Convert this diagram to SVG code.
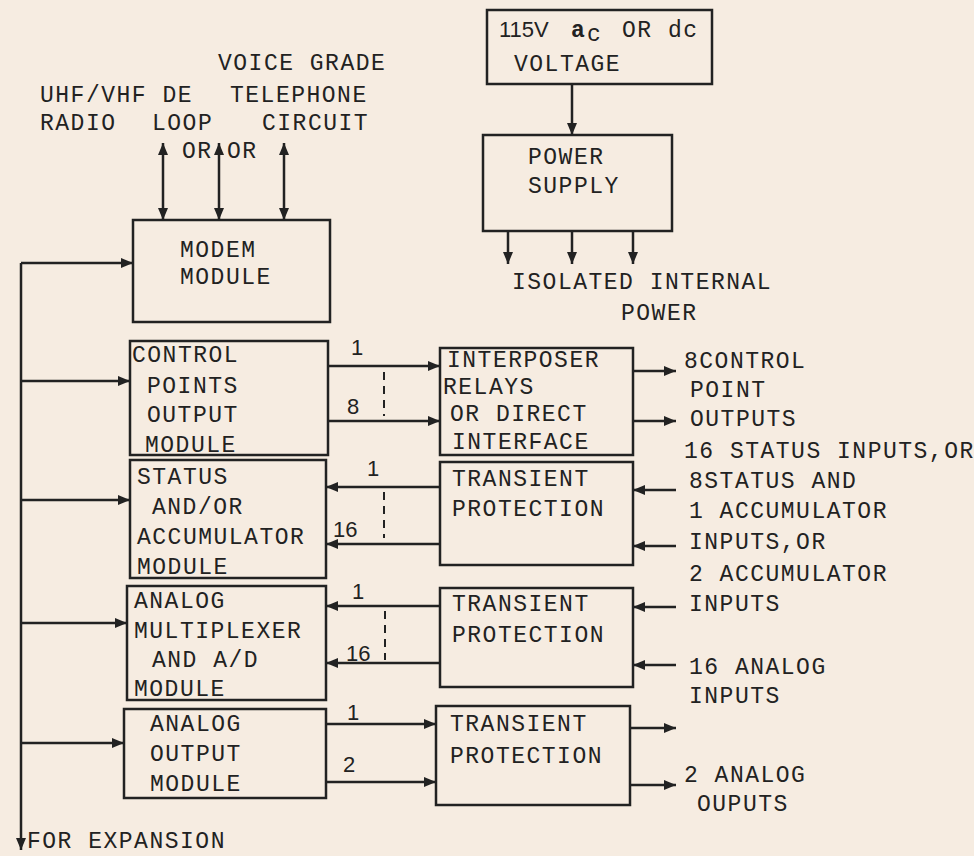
<svg xmlns="http://www.w3.org/2000/svg" width="974" height="856" viewBox="0 0 974 856">
<style>
.bg{fill:#f6ece1}
.box{fill:none;stroke:#222;stroke-width:2.5}
.ar{fill:none;stroke:#222;stroke-width:2.5;marker-end:url(#ah)}
.dar{fill:none;stroke:#222;stroke-width:2.5;marker-end:url(#ah);marker-start:url(#ah)}
.dash{fill:none;stroke:#222;stroke-width:2;stroke-dasharray:8 6}
.t{font-family:"Liberation Mono","Courier New",monospace;font-size:23px;letter-spacing:1.5px;fill:#222}
.n{font-family:"Liberation Sans",Arial,sans-serif;font-size:22px;fill:#222}
</style>
<defs>
<marker id="ah" viewBox="0 0 12 10" refX="12" refY="5" markerWidth="12" markerHeight="10" markerUnits="userSpaceOnUse" orient="auto-start-reverse">
<path d="M0,0 L12,5 L0,10 z" fill="#222"/>
</marker>
</defs>
<rect class="bg" x="0" y="0" width="974" height="856"/>

<g id="labels-top">
<text class="t" x="218" y="70">VOICE GRADE</text>
<text class="t" x="40" y="102">UHF/VHF DE</text>
<text class="t" x="230" y="102">TELEPHONE</text>
<text class="t" x="40" y="130">RADIO</text>
<text class="t" x="152" y="130">LOOP</text>
<text class="t" x="262" y="130">CIRCUIT</text>
<text class="t" x="182" y="158">OR</text>
<text class="t" x="227" y="158">OR</text>
</g>

<g id="voltage">
<rect class="box" x="487" y="10" width="225" height="74"/>
<text class="n" x="499" y="37">115V</text>
<text class="t" x="571" y="37" font-weight="bold">a</text>
<text class="t" x="587" y="41" font-size="19">c</text>
<text class="t" x="622" y="37">OR</text>
<text class="t" x="668" y="37">dc</text>
<text class="t" x="514" y="71">VOLTAGE</text>
</g>

<g id="power-supply">
<rect class="box" x="483" y="135" width="189" height="96"/>
<text class="t" x="528" y="164">POWER</text>
<text class="t" x="528" y="193">SUPPLY</text>
</g>

<g id="power-label">
<text class="t" x="512" y="289">ISOLATED INTERNAL</text>
<text class="t" x="621" y="320">POWER</text>
</g>

<g id="modem">
<rect class="box" x="133" y="220" width="197" height="102"/>
<text class="t" x="180" y="257">MODEM</text>
<text class="t" x="180" y="284">MODULE</text>
</g>

<g id="control-points">
<rect class="box" x="130" y="341" width="198" height="114"/>
<text class="t" x="132" y="362">CONTROL</text>
<text class="t" x="147" y="393">POINTS</text>
<text class="t" x="147" y="422">OUTPUT</text>
<text class="t" x="145" y="452">MODULE</text>
</g>

<g id="interposer">
<rect class="box" x="440" y="348" width="193" height="107"/>
<text class="t" x="447" y="367">INTERPOSER</text>
<text class="t" x="443" y="394">RELAYS</text>
<text class="t" x="450" y="421">OR DIRECT</text>
<text class="t" x="452" y="449">INTERFACE</text>
</g>

<g id="status">
<rect class="box" x="130" y="460" width="196" height="118"/>
<text class="t" x="137" y="484">STATUS</text>
<text class="t" x="152" y="514">AND/OR</text>
<text class="t" x="137" y="544">ACCUMULATOR</text>
<text class="t" x="137" y="574">MODULE</text>
</g>

<g id="transient-1">
<rect class="box" x="440" y="462" width="193" height="103"/>
<text class="t" x="452" y="486">TRANSIENT</text>
<text class="t" x="452" y="516">PROTECTION</text>
</g>

<g id="analog-mux">
<rect class="box" x="127" y="586" width="199" height="114"/>
<text class="t" x="134" y="608">ANALOG</text>
<text class="t" x="134" y="638">MULTIPLEXER</text>
<text class="t" x="152" y="667">AND A/D</text>
<text class="t" x="134" y="696">MODULE</text>
</g>

<g id="transient-2">
<rect class="box" x="440" y="588" width="193" height="99"/>
<text class="t" x="452" y="611">TRANSIENT</text>
<text class="t" x="452" y="642">PROTECTION</text>
</g>

<g id="analog-output">
<rect class="box" x="124" y="709" width="202" height="89"/>
<text class="t" x="150" y="731">ANALOG</text>
<text class="t" x="150" y="761">OUTPUT</text>
<text class="t" x="150" y="791">MODULE</text>
</g>

<g id="transient-3">
<rect class="box" x="436" y="706" width="194" height="99"/>
<text class="t" x="450" y="731">TRANSIENT</text>
<text class="t" x="450" y="763">PROTECTION</text>
</g>

<g id="labels-right">
<text class="t" x="684" y="368">8CONTROL</text>
<text class="t" x="690" y="397">POINT</text>
<text class="t" x="690" y="426">OUTPUTS</text>
<text class="t" x="684" y="458">16 STATUS INPUTS,OR</text>
<text class="t" x="689" y="488">8STATUS AND</text>
<text class="t" x="689" y="518">1 ACCUMULATOR</text>
<text class="t" x="689" y="549">INPUTS,OR</text>
<text class="t" x="689" y="581">2 ACCUMULATOR</text>
<text class="t" x="689" y="611">INPUTS</text>
<text class="t" x="689" y="674">16 ANALOG</text>
<text class="t" x="689" y="703">INPUTS</text>
<text class="t" x="684" y="782">2 ANALOG</text>
<text class="t" x="697" y="811">OUPUTS</text>
<text class="t" x="27" y="848">FOR EXPANSION</text>
</g>

<g id="connectors">
<line class="dar" x1="163" y1="143" x2="163" y2="220"/>
<line class="dar" x1="219" y1="143" x2="219" y2="220"/>
<line class="dar" x1="284" y1="143" x2="284" y2="220"/>

<line class="ar" x1="572" y1="84" x2="572" y2="135"/>
<line class="ar" x1="508" y1="231" x2="508" y2="264"/>
<line class="ar" x1="572" y1="231" x2="572" y2="264"/>
<line class="ar" x1="633" y1="231" x2="633" y2="264"/>

<line class="ar" x1="21" y1="263" x2="21" y2="850"/>
<line class="ar" x1="21" y1="263" x2="133" y2="263"/>
<line class="ar" x1="21" y1="381" x2="130" y2="381"/>
<line class="ar" x1="21" y1="500" x2="130" y2="500"/>
<line class="ar" x1="21" y1="623" x2="127" y2="623"/>
<line class="ar" x1="21" y1="743" x2="124" y2="743"/>

<line class="ar" x1="328" y1="366" x2="440" y2="366"/>
<line class="ar" x1="328" y1="421" x2="440" y2="421"/>
<line class="dash" x1="384" y1="372" x2="384" y2="416"/>
<text class="n" x="351" y="355">1</text>
<text class="n" x="347" y="414">8</text>

<line class="ar" x1="440" y1="487" x2="326" y2="487"/>
<line class="ar" x1="440" y1="544" x2="326" y2="544"/>
<line class="dash" x1="384" y1="492" x2="384" y2="538"/>
<text class="n" x="367" y="476">1</text>
<text class="n" x="333" y="537">16</text>

<line class="ar" x1="440" y1="606" x2="326" y2="606"/>
<line class="ar" x1="440" y1="663" x2="326" y2="663"/>
<line class="dash" x1="385" y1="611" x2="385" y2="660"/>
<text class="n" x="352" y="599">1</text>
<text class="n" x="346" y="661">16</text>

<line class="ar" x1="326" y1="724" x2="436" y2="724"/>
<line class="ar" x1="326" y1="782" x2="436" y2="782"/>
<text class="n" x="347" y="720">1</text>
<text class="n" x="343" y="772">2</text>

<line class="ar" x1="633" y1="371" x2="676" y2="371"/>
<line class="ar" x1="633" y1="421" x2="676" y2="421"/>
<line class="ar" x1="676" y1="490" x2="633" y2="490"/>
<line class="ar" x1="676" y1="546" x2="633" y2="546"/>
<line class="ar" x1="676" y1="607" x2="633" y2="607"/>
<line class="ar" x1="676" y1="665" x2="633" y2="665"/>
<line class="ar" x1="630" y1="728" x2="676" y2="728"/>
<line class="ar" x1="630" y1="785" x2="676" y2="785"/>
</g>
</svg>
